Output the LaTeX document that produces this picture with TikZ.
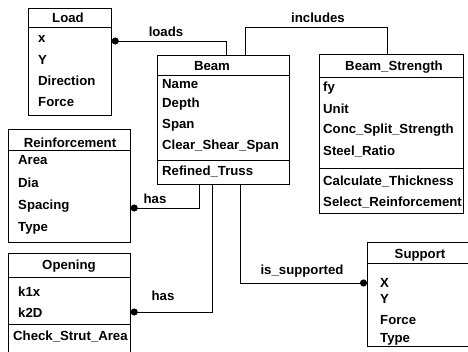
\documentclass[tikz,border=0pt]{standalone}
\usepackage{fontspec}
\setmainfont{Liberation Sans}
\usepackage{tikz}
\usetikzlibrary{arrows.meta, positioning, calc}
\newcommand{\umlfont}{\fontsize{13.2}{14}\selectfont\bfseries}

\begin{document}
\begin{tikzpicture}[
    x=1pt, y=-1pt,
    classbox/.style={rectangle, draw, line width=0.7pt, anchor=north west, inner sep=0pt},
    ctitle/.style={font=\umlfont, inner sep=0pt},
    attr/.style={font=\umlfont, anchor=west, inner sep=0pt},
    relname/.style={font=\umlfont, inner sep=0pt},
    sepline/.style={line width=0.7pt},
    link/.style={line width=0.7pt},
    assoc/.style={{Circle[length=7pt]}-, line width=0.7pt}
]
\useasboundingbox (0,0) rectangle (468,351);
% Load
\node[classbox, minimum width=83pt, minimum height=107pt] (load) at (28,8) {};
\node[ctitle] (loadt) at (68,18) {Load};
\draw[sepline] (load.west |- 0,27) -- (load.east |- 0,27);
\node[attr] (ldx) at (38,39) {x};
\node[attr] (ldy) at (38,60) {Y};
\node[attr] (lddir) at (38,81) {Direction};
\node[attr] (ldf) at (38,102) {Force};
% Beam
\node[classbox, minimum width=132pt, minimum height=129pt] (beam) at (157,55) {};
\node[ctitle] (beamt) at (212,66) {Beam};
\draw[sepline] (beam.west |- 0,75) -- (beam.east |- 0,75);
\node[attr] (bmname) at (162,84) {Name};
\node[attr] (bmdepth) at (162,104) {Depth};
\node[attr] (bmspan) at (162,125) {Span};
\node[attr] (bmclear) at (162,146) {Clear\_Shear\_Span};
\draw[sepline] (beam.west |- 0,160) -- (beam.east |- 0,160);
\node[attr] (bmtruss) at (162,172) {Refined\_Truss};
% Beam_Strength
\node[classbox, minimum width=144pt, minimum height=159pt] (strength) at (319,54) {};
\node[ctitle] (strengtht) at (394,67) {Beam\_Strength};
\draw[sepline] (strength.west |- 0,77) -- (strength.east |- 0,77);
\node[attr] (bsfy) at (323,88) {fy};
\node[attr] (bsunit) at (323,109) {Unit};
\node[attr] (bsconc) at (323,130) {Conc\_Split\_Strength};
\node[attr] (bssteel) at (323,152) {Steel\_Ratio};
\draw[sepline] (strength.west |- 0,168) -- (strength.east |- 0,168);
\node[attr] (bscalc) at (323,182) {Calculate\_Thickness};
\node[attr] (bsselect) at (323,203) {Select\_Reinforcement};
% Reinforcement
\node[classbox, minimum width=122pt, minimum height=113pt] (reinf) at (8,129) {};
\node[ctitle] (reinft) at (70,143) {Reinforcement};
\draw[sepline] (reinf.west |- 0,150) -- (reinf.east |- 0,150);
\node[attr] (rfarea) at (18,160) {Area};
\node[attr] (rfdia) at (18,183) {Dia};
\node[attr] (rfspacing) at (18,206) {Spacing};
\node[attr] (rftype) at (18,228) {Type};
% Opening
\node[classbox, minimum width=122pt, minimum height=102pt] (opening) at (8,253) {};
\node[ctitle] (openingt) at (69,266) {Opening};
\draw[sepline] (opening.west |- 0,277) -- (opening.east |- 0,277);
\node[attr] (opk1x) at (18,292) {k1x};
\node[attr] (opk2d) at (18,313) {k2D};
\draw[sepline] (opening.west |- 0,324) -- (opening.east |- 0,324);
\node[attr] (opcheck) at (13,337) {Check\_Strut\_Area};
% Support
\node[classbox, minimum width=112pt, minimum height=104pt] (support) at (367,242) {};
\node[ctitle] (supportt) at (420,255) {Support};
\draw[sepline] (support.west |- 0,263) -- (support.east |- 0,263);
\node[attr] (spx) at (380,283) {X};
\node[attr] (spy) at (380,299) {Y};
\node[attr] (spforce) at (380,320) {Force};
\node[attr] (sptype) at (380,339) {Type};
% Associations
\draw[assoc] (load.east |- 0,41) -| (beam.north -| 226,0);
\node[relname] (loadslbl) at (166,32) {loads};
\draw[link] (beam.north -| 245,0) -- ++(0,-28) -| (strength.north -| 387,0);
\node[relname] (includeslbl) at (318,18) {includes};
\draw[assoc] (reinf.east |- 0,208) -| (beam.south -| 199,0);
\node[relname] (has1lbl) at (155,199) {has};
\draw[assoc] (opening.east |- 0,312) -| (beam.south -| 212,0);
\node[relname] (has2lbl) at (163,296) {has};
\draw[assoc] (support.west |- 0,283) -| (beam.south -| 240,0);
\node[relname] (supportedlbl) at (302,271) {is\_supported};
\end{tikzpicture}
\end{document}
